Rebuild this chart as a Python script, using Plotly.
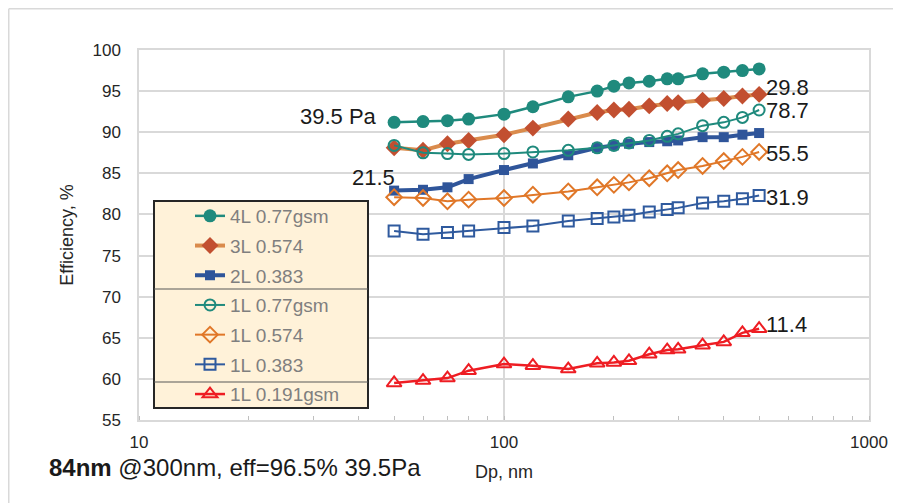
import math
import plotly.graph_objects as go

# ---------------- data ----------------
dp_nm = [50, 60, 70, 80, 100, 120, 150, 180, 200, 220, 250, 280, 300, 350, 400, 450, 500]

eff_4L_077 = [91.2, 91.3, 91.4, 91.6, 92.2, 93.1, 94.3, 95.0, 95.6, 96.0, 96.2, 96.5, 96.5, 97.1, 97.3, 97.5, 97.7]
eff_3L_0574 = [88.1, 87.8, 88.6, 89.0, 89.7, 90.5, 91.6, 92.4, 92.7, 92.8, 93.2, 93.5, 93.6, 93.9, 94.1, 94.4, 94.6]
eff_2L_0383 = [82.9, 83.0, 83.3, 84.3, 85.4, 86.2, 87.2, 88.1, 88.4, 88.6, 88.8, 88.9, 89.0, 89.4, 89.4, 89.7, 89.9]
eff_1L_077 = [88.4, 87.5, 87.4, 87.3, 87.4, 87.6, 87.8, 88.1, 88.4, 88.7, 89.0, 89.5, 89.8, 90.8, 91.2, 91.8, 92.7]
eff_1L_0574 = [82.1, 82.0, 81.6, 81.8, 82.0, 82.4, 82.8, 83.3, 83.6, 83.9, 84.4, 85.0, 85.4, 85.9, 86.5, 87.0, 87.6]
eff_1L_0383 = [78.0, 77.6, 77.8, 78.0, 78.4, 78.6, 79.2, 79.5, 79.7, 79.9, 80.3, 80.6, 80.8, 81.4, 81.6, 81.9, 82.3]
eff_1L_0191 = [59.5, 59.8, 60.1, 61.0, 61.8, 61.6, 61.2, 61.9, 62.0, 62.2, 63.0, 63.5, 63.6, 64.1, 64.5, 65.6, 66.1]

series_names = ["4L 0.77gsm", "3L 0.574", "2L 0.383", "1L 0.77gsm", "1L 0.574", "1L 0.383", "1L 0.191gsm"]

# pressure-drop labels (Pa)
end_labels = ["29.8", "78.7", "55.5", "31.9", "11.4"]
start_labels = ["39.5 Pa", "21.5"]

y_ticks = [55, 60, 65, 70, 75, 80, 85, 90, 95, 100]
x_tick_vals = [10, 100, 1000]
x_tick_text = ["10", "100", "1000"]

footnote_bold = "84nm"
footnote_rest = " @300nm, eff=96.5% 39.5Pa"

# ---------------- layout helpers ----------------
OFF = 8  # page body margin
W, H = 901 - OFF, 503 - OFF
ML, MT = 131, 42
PW, PH = 730, 370
MR = W - ML - PW
MB = H - MT - PH


def px_x(sx):
    return (sx - OFF - ML) / PW


def px_y(sy):
    return (H - MB - (sy - OFF)) / PH


FONT = "Liberation Sans, Arial, sans-serif"
TEAL = "#1F8A7D"
TAN = "#DA8B4C"
BRICK = "#C24F30"
NAVY = "#2F559A"
ORANGE = "#E07728"
NAVY2 = "#2F5A9E"
RED = "#EE1D23"
TXT = "#1a1a1a"

fig = go.Figure()

styles = [
    (eff_4L_077, dict(color=TEAL, width=2.5), dict(symbol="circle", size=13, color=TEAL)),
    (eff_3L_0574, dict(color=TAN, width=4), dict(symbol="diamond", size=13, color=BRICK)),
    (eff_2L_0383, dict(color=NAVY, width=4), dict(symbol="square", size=10, color=NAVY)),
    (eff_1L_077, dict(color=TEAL, width=2), dict(symbol="circle-open", size=11, color=TEAL, line=dict(width=2))),
    (eff_1L_0574, dict(color=ORANGE, width=2), dict(symbol="diamond-open", size=12, color=ORANGE, line=dict(width=2))),
    (eff_1L_0383, dict(color=NAVY2, width=2), dict(symbol="square-open", size=11, color=NAVY2, line=dict(width=2))),
    (eff_1L_0191, dict(color=RED, width=2.5), dict(symbol="triangle-up-open", size=13, color=RED, line=dict(width=2))),
]

for i, (ys, line, marker) in enumerate(styles):
    fig.add_trace(go.Scatter(
        x=dp_nm, y=ys, mode="lines+markers", name=series_names[i],
        line=line, marker=marker, legendgroup=f"g{i}",
    ))

# value annotations
ann = []
end_series = [eff_3L_0574, eff_1L_077, eff_1L_0574, eff_1L_0383, eff_1L_0191]
end_yshift = [7, 0, -2, -2, 4]
lab_font = dict(family=FONT, size=22, color=TXT)
for lab, ys, ysh in zip(end_labels, end_series, end_yshift):
    ann.append(dict(x=math.log10(dp_nm[-1]), y=ys[-1], xref="x", yref="y", text=lab,
                    showarrow=False, xanchor="left", yanchor="middle", xshift=5, yshift=ysh,
                    font=lab_font))
ann.append(dict(x=math.log10(dp_nm[0]), y=eff_4L_077[0], xref="x", yref="y", text=start_labels[0],
                showarrow=False, xanchor="right", yanchor="middle", xshift=-15, yshift=6,
                font=lab_font))
ann.append(dict(x=math.log10(dp_nm[0]), y=eff_2L_0383[0], xref="x", yref="y", text=start_labels[1],
                showarrow=False, xanchor="right", yanchor="middle", xshift=3, yshift=13,
                font=lab_font))
ann.append(dict(x=px_x(47), y=px_y(467), xref="paper", yref="paper",
                text=f"<b>{footnote_bold}</b>{footnote_rest}", showarrow=False,
                xanchor="left", yanchor="middle",
                font=dict(family=FONT, size=24, color=TXT)))

shapes = [
    # outer chart border (left and top edges only are visible)
    dict(type="line", xref="paper", yref="paper", x0=px_x(8.75), y0=px_y(8.75), x1=px_x(1200), y1=px_y(8.75),
         line=dict(color="#D9D9D9", width=1.5), layer="below"),
    dict(type="line", xref="paper", yref="paper", x0=px_x(8.75), y0=px_y(8.75), x1=px_x(8.75), y1=px_y(900),
         line=dict(color="#D9D9D9", width=1.5), layer="below"),
    # legend box
    dict(type="rect", xref="paper", yref="paper", x0=px_x(154), y0=px_y(408), x1=px_x(368), y1=px_y(201),
         line=dict(color="#262626", width=2), fillcolor="#FFF2D9", layer="above"),
    dict(type="line", xref="paper", yref="paper", x0=px_x(154), y0=px_y(289), x1=px_x(368), y1=px_y(289),
         line=dict(color="#595959", width=1.2), layer="above"),
    dict(type="line", xref="paper", yref="paper", x0=px_x(154), y0=px_y(382), x1=px_x(368), y1=px_y(382),
         line=dict(color="#595959", width=1.2), layer="above"),
]

fig.update_layout(
    width=W, height=H,
    margin=dict(l=ML, r=MR, t=MT, b=MB, autoexpand=False),
    paper_bgcolor="white", plot_bgcolor="white",
    font=dict(family=FONT, size=17, color="#262626"),
    showlegend=True,
    legend=dict(x=px_x(190), y=px_y(197), xanchor="left", yanchor="top",
                bgcolor="rgba(0,0,0,0)", borderwidth=0,
                font=dict(family=FONT, size=19, color="#7F7F7F"),
                tracegroupgap=2, traceorder="grouped"),
    annotations=ann,
    shapes=shapes,
)

fig.update_xaxes(
    type="log", range=[1, 3], tickvals=x_tick_vals, ticktext=x_tick_text,
    showgrid=True, gridcolor="#D9D9D9", gridwidth=1.5,
    showline=True, linecolor="#D9D9D9", linewidth=1.5, mirror=True,
    ticks="", ticklabelstandoff=6, tickfont=dict(size=17, color="#262626"),
    minor=dict(ticks="inside", ticklen=4, tickcolor="#BFBFBF", tickwidth=1, showgrid=False, dtick="D1"),
    title=dict(text="Dp, nm", font=dict(size=18, color="#262626"), standoff=14),
    zeroline=False, automargin=False,
)
fig.update_yaxes(
    range=[55, 100], tickvals=y_ticks,
    showgrid=True, gridcolor="#D9D9D9", gridwidth=1.5,
    showline=True, linecolor="#D9D9D9", linewidth=1.5, mirror=True,
    ticks="", ticklabelstandoff=13, tickfont=dict(size=17, color="#262626"),
    title=dict(text="Efficiency, %", font=dict(size=18, color="#262626"), standoff=14),
    zeroline=False, automargin=False,
)

fig.write_html("out.html")
